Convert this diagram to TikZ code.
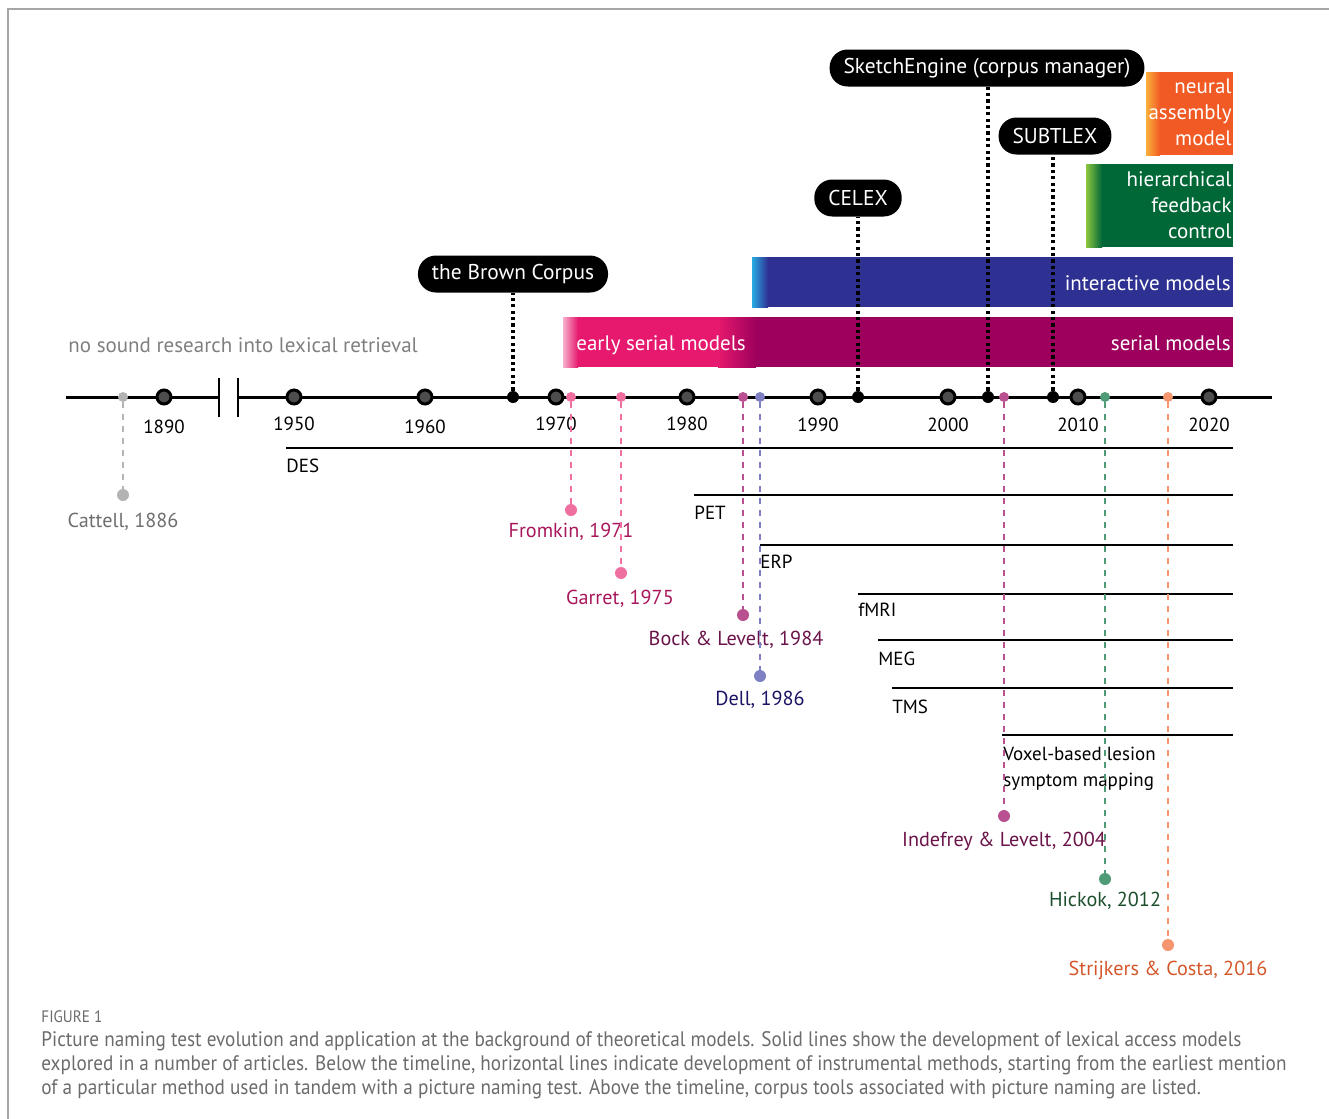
\documentclass[tikz,border=0pt]{standalone}
\usepackage{fontspec}
\setmainfont{PT Sans}
\newfontfamily\capfont[FakeStretch=0.915]{PT Sans}
\usetikzlibrary{positioning}

\definecolor{frame}{HTML}{A6A6A6}
\definecolor{yeargray}{HTML}{4D4D4D}
\definecolor{soundgray}{HTML}{7F7F7F}
\definecolor{capgray}{HTML}{6B6B6B}
\definecolor{cattelldot}{HTML}{B3B3B3}
\definecolor{cattelltext}{HTML}{6E6E6E}
\definecolor{pinkdot}{HTML}{EE6FA0}
\definecolor{pinktext}{HTML}{A8175C}
\definecolor{bockdot}{HTML}{B9508F}
\definecolor{bocktext}{HTML}{6A1349}
\definecolor{delldot}{HTML}{7F80C4}
\definecolor{delltext}{HTML}{1B1464}
\definecolor{hickokdot}{HTML}{4F9B77}
\definecolor{hickoktext}{HTML}{1D4F2C}
\definecolor{strijdot}{HTML}{F4956E}
\definecolor{strijtext}{HTML}{D4572A}
\definecolor{serialpink}{HTML}{E6196E}
\definecolor{serialdark}{HTML}{9E005D}
\definecolor{interblue}{HTML}{2E3192}
\definecolor{interlight}{HTML}{29ABE2}
\definecolor{feedgreen}{HTML}{006837}
\definecolor{feedlight}{HTML}{8CC63F}
\definecolor{neurorange}{HTML}{F15A24}
\definecolor{neurlight}{HTML}{FBB03B}

\begin{document}
\begin{tikzpicture}[x=0.5pt,y=-0.5pt,
    yeardot/.style={circle,draw=black,line width=1.5pt,fill=yeargray,minimum size=7pt,inner sep=0pt},
    corpusdot/.style={circle,fill=black,minimum size=6pt,inner sep=0pt},
    eventdot/.style={circle,minimum size=5pt,inner sep=0pt},
    enddot/.style={circle,minimum size=6pt,inner sep=0pt},
    eventline/.style={dashed,line width=0.7pt,dash pattern=on 3pt off 3pt},
    corpuslink/.style={line width=1.6pt,dash pattern=on 1.6pt off 1.6pt},
    corpus/.style={fill=black,text=white,rounded corners=9pt,minimum height=18.5pt,inner xsep=7pt,font=\fontsize{10.7}{12}\selectfont},
    yearlabel/.style={anchor=base,font=\fontsize{9.5}{11}\selectfont},
    authorlabel/.style={anchor=base,font=\fontsize{10.1}{12}\selectfont},
    methodlabel/.style={anchor=base west,inner sep=0pt,font=\fontsize{9.5}{13}\selectfont},
    barlabel/.style={text=white,inner sep=0pt,font=\fontsize{10.5}{13}\selectfont},
    caption/.style={text=capgray,anchor=base west,inner sep=0pt,font=\capfont\fontsize{10.5}{12}\selectfont},
    method/.style={line width=0.8pt}]
    \pgfmathsetmacro{\axisY}{397}
    \pgfmathsetmacro{\barEnd}{1233}
    \useasboundingbox (0,0) rectangle (1329,1119);

    % Rahmen
    \draw[frame,line width=0.8pt] (1329,9) -- (8,9) -- (8,1119);

    % Modelle
    \shade[left color=serialpink!35,right color=serialpink] (563,317) rectangle (578,367);
    \fill[serialpink] (578,317) rectangle (718,367);
    \shade[left color=serialpink,right color=serialdark] (718,317) rectangle (756,367);
    \fill[serialdark] (756,317) rectangle (\barEnd,367);
    \node[barlabel,anchor=base west] (early) at (576,350) {early serial models};
    \node[barlabel,anchor=base east] (serial) at (1231,350) {serial models};

    \shade[left color=interlight,right color=interblue] (752,257) rectangle (768,307);
    \fill[interblue] (768,257) rectangle (\barEnd,307);
    \node[barlabel,anchor=base east] (inter) at (1231,290) {interactive models};

    \shade[left color=feedlight,right color=feedgreen] (1086,164) rectangle (1102,247);
    \fill[feedgreen] (1102,164) rectangle (\barEnd,247);
    \node[barlabel,anchor=north east,align=right] (feed) at (1232,171) {hierarchical\\feedback\\control};

    \shade[left color=neurlight,right color=neurorange] (1146,72) rectangle (1160,155);
    \fill[neurorange] (1160,72) rectangle (\barEnd,155);
    \node[barlabel,anchor=north east,align=right] (neur) at (1232,78) {neural\\assembly\\model};

    % Methoden
    \draw[method] (286,448) -- (\barEnd,448);
    \node[methodlabel] (des) at (286,472) {DES};
    \draw[method] (694,495) -- (\barEnd,495);
    \node[methodlabel] (pet) at (694,519) {PET};
    \draw[method] (760,545) -- (\barEnd,545);
    \node[methodlabel] (erp) at (760,568) {ERP};
    \draw[method] (858,594) -- (\barEnd,594);
    \node[methodlabel] (fmri) at (858,616) {fMRI};
    \draw[method] (878,640) -- (\barEnd,640);
    \node[methodlabel] (meg) at (878,665) {MEG};
    \draw[method] (892,688) -- (\barEnd,688);
    \node[methodlabel] (tms) at (892,713) {TMS};
    \draw[method] (1002,735) -- (\barEnd,735);
    \node[methodlabel,align=left] (vlsm) at (1003,786) {Voxel-based lesion\\symptom mapping};

    % Zeitachse
    \draw[line width=1.5pt] (66,\axisY) -- (219,\axisY) (238,\axisY) -- (1272,\axisY);
    \draw[line width=1pt] (219,378) -- (219,417) (238,378) -- (238,417);
    \node[text=soundgray,anchor=base west,inner sep=0pt,font=\fontsize{10.5}{12}\selectfont] (nosound) at (68,352) {no sound research into lexical retrieval};
    \foreach \yr/\x/\yb in {1890/164/433,1950/294/430,1960/425/433,1970/556/430,1980/687/430,1990/818/431,2000/948/431,2010/1078/431,2020/1209/431}{
        \node[yeardot] (y\yr) at (\x,\axisY) {};
        \node[yearlabel] at (\x,\yb) {\yr};
    }

    % Artikel
    \foreach \n/\x/\yd/\lx/\yb/\dc/\tc/\lab in {
        cattell/123/495/123/527/cattelldot/cattelltext/{Cattell, 1886},
        fromkin/571/510/571/537/pinkdot/pinktext/{Fromkin, 1971},
        garret/621/573/620/604/pinkdot/pinktext/{Garret, 1975},
        bock/743/615/736/645/bockdot/bocktext/{Bock \& Levelt, 1984},
        dell/760/676/760/705/delldot/delltext/{Dell, 1986},
        indefrey/1004/816/1004/846/bockdot/bocktext/{Indefrey \& Levelt, 2004},
        hickok/1105/879/1105/906/hickokdot/hickoktext/{Hickok, 2012},
        strijkers/1168/945/1168/975/strijdot/strijtext/{Strijkers \& Costa, 2016}}{
        \node[eventdot,fill=\dc] (\n A) at (\x,\axisY) {};
        \node[enddot,fill=\dc] (\n B) at (\x,\yd) {};
        \draw[eventline,draw=\dc] (\n A) -- (\n B);
        \node[authorlabel,text=\tc] (\n L) at (\lx,\yb) {\lab};
    }

    % Korpora
    \node[corpus] (brown) at (513,274) {the Brown Corpus};
    \node[corpus] (celex) at (858,198) {CELEX};
    \node[corpus] (sketch) at (987,68) {SketchEngine (corpus manager)};
    \node[corpus] (subtlex) at (1055,136) {SUBTLEX};
    \node[corpusdot] (brownD) at (513,\axisY) {};
    \node[corpusdot] (celexD) at (858,\axisY) {};
    \node[corpusdot] (sketchD) at (988,\axisY) {};
    \node[corpusdot] (subtlexD) at (1053,\axisY) {};
    \draw[corpuslink] (brownD) -- (brownD |- brown.south);
    \draw[corpuslink] (celexD) -- (celexD |- celex.south);
    \draw[corpuslink] (sketchD) -- (sketchD |- sketch.south);
    \draw[corpuslink] (subtlexD) -- (subtlexD |- subtlex.south);

    % Bildunterschrift
    \node[caption,font=\capfont\fontsize{8.3}{9}\selectfont] (figno) at (41,1022) {FIGURE 1};
    \node[caption] (cap1) at (41,1046) {Picture naming test evolution and application at the background of theoretical models. Solid lines show the development of lexical access models};
    \node[caption] (cap2) at (41,1070) {explored in a number of articles. Below the timeline, horizontal lines indicate development of instrumental methods, starting from the earliest mention};
    \node[caption] (cap3) at (41,1094) {of a particular method used in tandem with a picture naming test. Above the timeline, corpus tools associated with picture naming are listed.};
\end{tikzpicture}
\end{document}
